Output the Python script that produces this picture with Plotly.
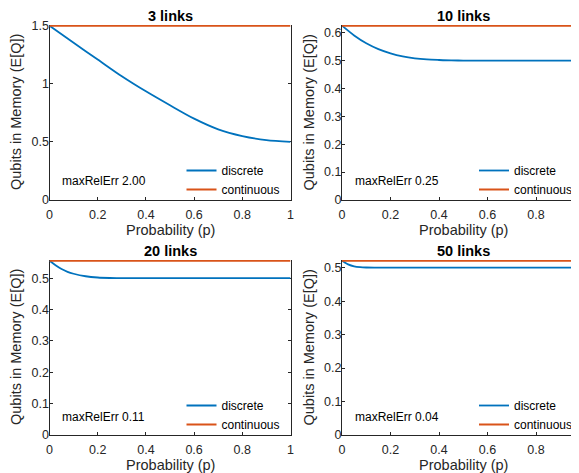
import plotly.graph_objects as go

# ---------------- data ----------------
links = [3, 10, 20, 50]
panel_titles = ["3 links", "10 links", "20 links", "50 links"]
max_rel_err = ["2.00", "0.25", "0.11", "0.04"]

continuous_values = [1.5, 0.625, 0.5556, 0.5208]

p_3 = [0.0, 0.1, 0.2, 0.3, 0.4, 0.5, 0.6, 0.7, 0.8, 0.9, 1.0]
discrete_3 = [1.5, 1.353, 1.209, 1.065, 0.935, 0.815, 0.70, 0.608, 0.55, 0.515, 0.5]

p_10 = [0.0, 0.05, 0.1, 0.15, 0.2, 0.25, 0.3, 0.35, 0.4, 0.45, 0.5, 0.6, 0.7, 0.8, 0.9, 1.0]
discrete_10 = [0.625, 0.59, 0.562, 0.541, 0.526, 0.515, 0.508, 0.504, 0.502, 0.5005, 0.5,
               0.5, 0.5, 0.5, 0.5, 0.5]

p_20 = [0.0, 0.025, 0.05, 0.075, 0.1, 0.15, 0.2, 0.25, 0.3, 0.4, 0.6, 0.8, 1.0]
discrete_20 = [0.5556, 0.541, 0.529, 0.52, 0.514, 0.506, 0.502, 0.5005, 0.5, 0.5, 0.5, 0.5, 0.5]

p_50 = [0.0, 0.0125, 0.025, 0.05, 0.075, 0.1, 0.15, 0.2, 0.4, 0.6, 0.8, 1.0]
discrete_50 = [0.5208, 0.515, 0.51, 0.504, 0.5015, 0.5005, 0.5, 0.5, 0.5, 0.5, 0.5, 0.5]

p_series = [p_3, p_10, p_20, p_50]
discrete_series = [discrete_3, discrete_10, discrete_20, discrete_50]

y_dticks = [0.5, 0.1, 0.1, 0.1]
x_max = [1.0, 0.977, 1.0, 0.977]

# ---------------- style / layout ----------------
PAGE_W, PAGE_H = 579, 473
OFF = 8                       # default page (body) margin of the html page
W, H = PAGE_W - OFF, PAGE_H - OFF
BLUE = "#0072BD"
ORANGE = "#D95319"
AX = "#262626"
FONT = "Liberation Sans"


def px(x):
    return (x - OFF) / W


def py(y):
    return 1 - (y - OFF) / H


# axes boxes in page-pixel coordinates (left, right, top, bottom)
boxes = [(49.5, 290.5, 25, 200), (342, 579, 25, 200),
         (49.5, 290.5, 260, 435), (342, 579, 260, 435)]
centers_x = [170, 463, 170, 463]

fig = go.Figure()
annotations = []
layout = dict(
    width=W, height=H,
    margin=dict(l=0, r=0, t=0, b=0, autoexpand=False),
    paper_bgcolor="white", plot_bgcolor="white",
    font=dict(family=FONT, color=AX),
    showlegend=True,
)

for i in range(4):
    k = "" if i == 0 else str(i + 1)
    xa, ya = "x" + k, "y" + k
    leg = "legend" + k
    fig.add_trace(go.Scatter(
        x=p_series[i], y=discrete_series[i], mode="lines", name="discrete",
        line=dict(color=BLUE, width=1.8, shape="spline", smoothing=0.8),
        xaxis=xa, yaxis=ya, legend=leg))
    fig.add_trace(go.Scatter(
        x=[0, 1], y=[continuous_values[i]] * 2, mode="lines", name="continuous",
        line=dict(color=ORANGE, width=2),
        xaxis=xa, yaxis=ya, legend=leg))

    l, r, t, b = boxes[i]
    left_col = i in (0, 2)
    ytop = continuous_values[i] * (1 + 0.7 / (b - t))   # small headroom so the top line shows
    layout["xaxis" + k] = dict(
        domain=[px(l), px(r)], anchor=ya, range=[0, x_max[i]],
        tick0=0, dtick=0.2, ticks="inside", ticklen=3, tickcolor=AX,
        showline=True, linecolor=AX, linewidth=1, mirror=False,
        showgrid=False, zeroline=False, layer="below traces", automargin=False,
        ticklabelstandoff=3,
        tickfont=dict(family=FONT, size=12.5, color=AX))
    layout["yaxis" + k] = dict(
        domain=[py(b), py(t)], anchor=xa, range=[0, ytop],
        tick0=0, dtick=y_dticks[i], ticks="inside", ticklen=3, tickcolor=AX,
        showline=True, linecolor=AX, linewidth=1,
        mirror="ticks" if left_col else False,
        showgrid=False, zeroline=False, layer="below traces", automargin=False,
        ticklabelstandoff=-3,
        tickfont=dict(family=FONT, size=12.5, color=AX))
    layout[leg] = dict(
        x=px(l + 132), y=py(b - 20), xanchor="left", yanchor="middle",
        bgcolor="rgba(0,0,0,0)", borderwidth=0, itemwidth=30,
        tracegroupgap=0, font=dict(family=FONT, size=12, color="black"))

    cx = centers_x[i]
    annotations.append(dict(
        text="<b>" + panel_titles[i] + "</b>", x=px(cx), y=py(t - 9),
        xref="paper", yref="paper", showarrow=False, xanchor="center", yanchor="middle",
        font=dict(family=FONT, size=14.5, color="black")))
    annotations.append(dict(
        text="Probability (p)", x=px(cx), y=py(b + 30),
        xref="paper", yref="paper", showarrow=False, xanchor="center", yanchor="middle",
        font=dict(family=FONT, size=14.5, color=AX)))
    annotations.append(dict(
        text="Qubits in Memory (E[Q])", x=px(l - 34),
        y=py((t + b) / 2), textangle=-90,
        xref="paper", yref="paper", showarrow=False, xanchor="center", yanchor="middle",
        font=dict(family=FONT, size=14.5, color=AX)))
    annotations.append(dict(
        text="maxRelErr " + max_rel_err[i], x=px(l + 10.5), y=py(b - 18.5),
        xref="paper", yref="paper", showarrow=False, xanchor="left", yanchor="middle",
        font=dict(family=FONT, size=12, color="black")))

layout["annotations"] = annotations
fig.update_layout(**layout)
fig.write_html("out.html")
